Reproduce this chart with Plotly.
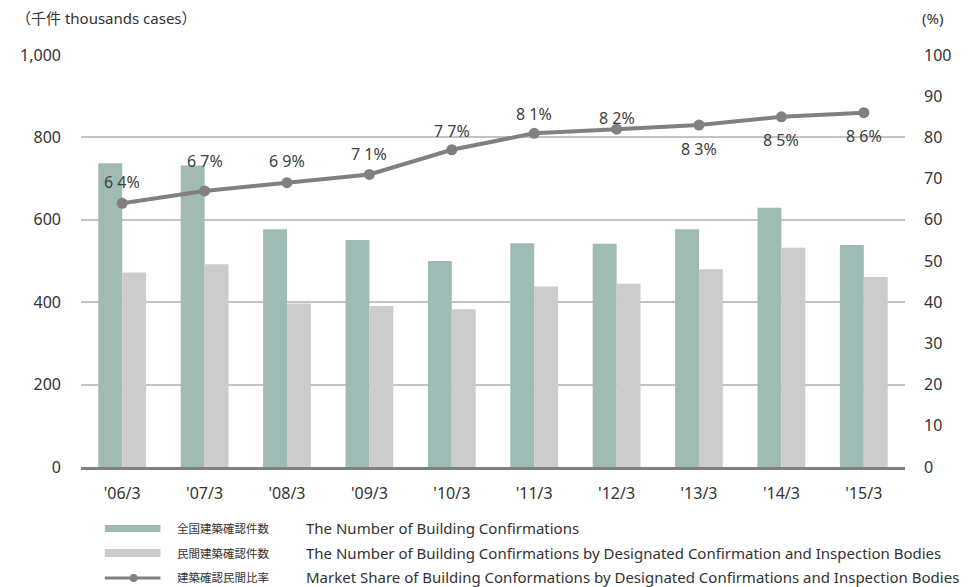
import plotly.graph_objects as go

categories = ["'06/3", "'07/3", "'08/3", "'09/3", "'10/3", "'11/3", "'12/3", "'13/3", "'14/3", "'15/3"]
total_confirmations = [737, 732, 577, 551, 500, 543, 542, 577, 629, 539]
private_confirmations = [472, 492, 397, 391, 383, 438, 445, 480, 532, 461]
market_share = [64, 67, 69, 71, 77, 81, 82, 83, 85, 86]

left_ticks = [0, 200, 400, 600, 800, 1000]
right_ticks = list(range(0, 101, 10))

legend_jp = ["全国建築確認件数", "民間建築確認件数", "建築確認民間比率"]
legend_en = [
    "The Number of Building Confirmations",
    "The Number of Building Confirmations by Designated Confirmation and Inspection Bodies",
    "Market Share of Building Conformations by Designated Confirmations and Inspection Bodies",
]

# style
GREEN = "#a0bbb3"
GRAY = "#cccccc"
LINE = "#808080"
TXT = "#333333"
FONT = "Noto Sans, Noto Sans CJK JP, sans-serif"
label_shift = [21, 30, 22, 20, 19, 19, 11, -24, -23, -23]

# page is offset by the default 8px body margin
OFF = 8
PAGE_W, PAGE_H = 969, 587
W, H = PAGE_W - OFF, PAGE_H - OFF
PL, PR, PT, PB = 75, 905, 55, 467  # plot area in page pixels
ML, MT = PL - OFF, PT - OFF
MR = W - (PR - OFF)
MB = H - (PB - OFF)
PW, PH = PR - PL, PB - PT

def px(x):
    return (x - PL) / PW

def py(y):
    return (PB - y) / PH

fig = go.Figure()
fig.add_trace(go.Bar(x=categories, y=total_confirmations, marker=dict(color=GREEN, line=dict(width=0)),
                     name=legend_jp[0], yaxis="y"))
fig.add_trace(go.Bar(x=categories, y=private_confirmations, marker=dict(color=GRAY, line=dict(width=0)),
                     name=legend_jp[1], yaxis="y"))
fig.add_trace(go.Scatter(x=categories, y=market_share, mode="lines+markers", yaxis="y2",
                         line=dict(color=LINE, width=4), marker=dict(color=LINE, size=11),
                         name=legend_jp[2]))

annotations = []
for c, v, s in zip(categories, market_share, label_shift):
    annotations.append(dict(x=c, y=v, xref="x", yref="y2", text=f"{v // 10} {v % 10}%",
                            showarrow=False, yshift=s, font=dict(size=16, color="#404040", family=FONT)))

annotations.append(dict(x=px(8), y=py(18), xref="paper", yref="paper", text="（千件 thousands cases）",
                        showarrow=False, xanchor="left", yanchor="middle",
                        font=dict(size=15, color=TXT, family=FONT)))
annotations.append(dict(x=px(920), y=py(18), xref="paper", yref="paper", text="(%)",
                        showarrow=False, xanchor="left", yanchor="middle",
                        font=dict(size=15, color=TXT, family=FONT)))

rows = [528, 553, 577]
shapes = []
shapes.append(dict(type="rect", xref="paper", yref="paper", x0=px(99), x1=px(155), y0=py(525), y1=py(532),
                   fillcolor=GREEN, line=dict(width=0)))
shapes.append(dict(type="rect", xref="paper", yref="paper", x0=px(99), x1=px(155), y0=py(549), y1=py(557),
                   fillcolor=GRAY, line=dict(width=0)))
shapes.append(dict(type="line", xref="paper", yref="paper", x0=px(99), x1=px(155), y0=py(578), y1=py(578),
                   line=dict(color=LINE, width=3)))
shapes.append(dict(type="circle", xref="paper", yref="paper", x0=px(124), x1=px(132), y0=py(574), y1=py(582),
                   fillcolor=LINE, line=dict(width=0)))
for r, jp, en in zip(rows, legend_jp, legend_en):
    annotations.append(dict(x=px(170), y=py(r), xref="paper", yref="paper", text=jp, showarrow=False,
                            xanchor="left", yanchor="middle", font=dict(size=11.5, color=TXT, family=FONT)))
    annotations.append(dict(x=px(300), y=py(r), xref="paper", yref="paper", text=en, showarrow=False,
                            xanchor="left", yanchor="middle", font=dict(size=15, color=TXT, family=FONT)))

fig.update_layout(
    width=W, height=H,
    margin=dict(l=ML, r=MR, t=MT, b=MB, pad=0),
    paper_bgcolor="white", plot_bgcolor="white",
    barmode="group", bargap=0.42, bargroupgap=0,
    showlegend=False,
    font=dict(family=FONT, size=16, color=TXT),
    xaxis=dict(range=[-0.5, len(categories) - 0.5], showgrid=False, showline=True, linecolor=LINE,
               linewidth=3, ticks="", ticklabelstandoff=10, tickfont=dict(size=16, color=TXT)),
    yaxis=dict(range=[0, 1000], tickvals=left_ticks, tickformat=",", showgrid=True, gridcolor="#c3c3c3",
               gridwidth=1.5, zeroline=False, showline=False, ticks="", ticklabelstandoff=19,
               tickfont=dict(size=16, color=TXT)),
    yaxis2=dict(range=[0, 100], tickvals=right_ticks, overlaying="y", side="right", showgrid=False,
                zeroline=False, showline=False, ticks="", ticklabelstandoff=18,
                tickfont=dict(size=16, color=TXT)),
    annotations=annotations,
    shapes=shapes,
)

fig.write_html("out.html")
